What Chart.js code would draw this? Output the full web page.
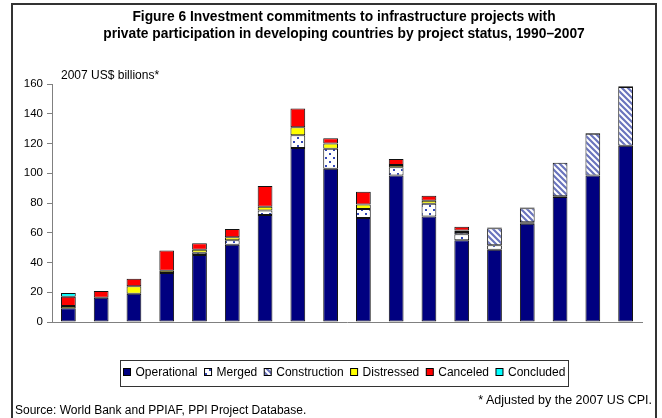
<!DOCTYPE html>
<html>
<head>
<meta charset="utf-8">
<script src="https://cdn.jsdelivr.net/npm/chart.js@4/dist/chart.umd.min.js"></script>
<style>
  html, body { margin:0; padding:0; background:#fff; }
  #wrap { position:relative; width:662px; height:418px; overflow:hidden; font-family:'Liberation Sans',Arial,sans-serif; color:#000; }
  #frame { position:absolute; left:11px; top:3px; width:642px; height:440px; border:2px solid #333; border-bottom:none; }
  canvas { position:absolute; left:0; top:0; }
  .t { position:absolute; white-space:nowrap; }
  #title { left:0; width:688px; text-align:center; font-weight:bold; font-size:13.8px; line-height:17px; top:8px; }
  #ylab { left:61px; top:67px; font-size:12px; line-height:16px; }
  #src { left:15px; top:402px; font-size:12px; line-height:16px; }
  #adj { right:10px; top:392px; font-size:12.5px; line-height:16px; }
</style>
</head>
<body>
<div id="wrap">
  <div id="frame"></div>
  <canvas id="c" width="662" height="418"></canvas>
  <div class="t" id="title">Figure 6 Investment commitments to infrastructure projects with<br>private participation in developing countries by project status, 1990–2007</div>
  <div class="t" id="ylab">2007 US$ billions*</div>
  <div class="t" id="src">Source: World Bank and PPIAF, PPI Project Database.</div>
  <div class="t" id="adj">* Adjusted by the 2007 US CPI.</div>
</div>
<script>
// ---- data (2007 US$ billions) ----
const years = ['1990','1991','1992','1993','1994','1995','1996','1997','1998','1999','2000','2001','2002','2003','2004','2005','2006','2007'];
const xTickLabels = ['1990','1995','2000','2005','2007'];
const yTicks = [0,20,40,60,80,100,120,140,160];
const operational  = [9.3,16.3,19,33,45,52,72,117,103,70,98.5,71,55,48.6,66,84,98.5,118.5];
const merged       = [0,0,0,0,1.5,3,3,8.5,13.5,6,5.5,8.5,4,3,1,0.5,0,0];
const construction = [0,0,0,0,0,0,0,0,0,0,0,0,1.5,11.5,9.5,22.5,28,39.5];
const distressed   = [1.5,0,5,1.5,2,2,2.5,5.5,3.5,3,1.5,2,1,0.5,0,0,0,0];
const canceled     = [6.2,4.5,5,13.5,4.5,5.5,14,12.5,3.5,8.5,4,3.3,2.5,0,0.5,0,0.5,0.5];
const concluded    = [2.5,0,0,0,0,0,0,0,0,0,0,0,0,0,0,0,0,0];

const FONT_FAMILY = "'Liberation Sans',Arial,sans-serif";

function dotPattern() {
  const c = document.createElement('canvas'); c.width = 8; c.height = 8;
  const g = c.getContext('2d');
  g.fillStyle = '#fff'; g.fillRect(0,0,8,8);
  g.fillStyle = '#3347b8';
  g.fillRect(1,1,2,2); g.fillRect(5,5,2,2);
  return g.createPattern(c, 'repeat');
}
function stripePattern() {
  const c = document.createElement('canvas'); c.width = 6; c.height = 6;
  const g = c.getContext('2d');
  g.fillStyle = '#fff'; g.fillRect(0,0,6,6);
  g.strokeStyle = '#6a74bd'; g.lineWidth = 2.2;
  g.beginPath();
  g.moveTo(-3,-3); g.lineTo(9,9);
  g.moveTo(-3,3); g.lineTo(3,9);
  g.moveTo(3,-3); g.lineTo(9,3);
  g.stroke();
  return g.createPattern(c, 'repeat');
}
const ctx0 = document.getElementById('c').getContext('2d');
const nz = a => a.map(v => v === 0 ? null : v);

const series = [
  {label:'Operational', data: operational, fill:'#000080'},
  {label:'Merged', data: merged, fill: dotPattern()},
  {label:'Construction', data: construction, fill: stripePattern()},
  {label:'Distressed', data: distressed, fill:'#ffff00'},
  {label:'Canceled', data: canceled, fill:'#ff0000'},
  {label:'Concluded', data: concluded, fill:'#00ffff'}
];

const legendPlugin = {
  id:'boxLegend',
  afterDraw(chart) {
    const ctx = chart.ctx;
    ctx.save();
    ctx.font = "12px " + FONT_FAMILY;
    const box = 7, gapT = 5, gapI = 7, padX = 3;
    const items = chart.data.datasets.map(ds => ({label: ds.label, fill: ds.backgroundColor, w: ctx.measureText(ds.label).width}));
    let total = items.reduce((s,it) => s + box + gapT + it.w, 0) + gapI*(items.length-1) + 2*padX;
    const cx = 344, top = 360, h = 26;
    let x = Math.round(cx - total/2) + 0.5;
    ctx.strokeStyle = '#333'; ctx.lineWidth = 1;
    ctx.strokeRect(x, top + 0.5, Math.round(total), h);
    x += padX;
    const ty = 372.5;
    items.forEach(it => {
      ctx.fillStyle = it.fill;
      ctx.fillRect(x, 368.5, box, box);
      ctx.strokeStyle = '#000';
      ctx.strokeRect(x, 368.5, box, box);
      ctx.fillStyle = '#000';
      ctx.textBaseline = 'middle';
      ctx.fillText(it.label, x + box + gapT, ty);
      x += box + gapT + it.w + gapI;
    });
    ctx.restore();
  }
};

new Chart(ctx0, {
  type: 'bar',
  data: {
    labels: years,
    datasets: series.map(s => ({
      label: s.label,
      data: nz(s.data),
      backgroundColor: s.fill,
      borderColor: '#111',
      borderWidth: 1,
      borderSkipped: false,
      barPercentage: 0.5,
      categoryPercentage: 0.9
    }))
  },
  options: {
    responsive: false,
    animation: false,
    layout: { padding: { left: 0, right: 20, top: 84, bottom: 76 } },
    plugins: { legend: { display: false }, tooltip: { enabled: false }, title: { display: false } },
    scales: {
      x: {
        stacked: true,
        grid: { display: false },
        border: { color: '#808080', width: 1 },
        ticks: {
          autoSkip: false, maxRotation: 0, color: '#000', padding: 13,
          font: { family: FONT_FAMILY, size: 11.5 },
          callback: function(v, i) { return xTickLabels.includes(years[i]) ? years[i] : ''; }
        },
        afterFit: s => { s.height = 20; }
      },
      y: {
        stacked: true, min: 0, max: 160,
        afterBuildTicks: s => { s.ticks = yTicks.map(v => ({value: v})); },
        grid: { drawOnChartArea: false, drawTicks: true, tickLength: 5, color: '#808080' },
        border: { color: '#808080', width: 1 },
        ticks: { color: '#000', padding: 4, font: { family: FONT_FAMILY, size: 11.5 } },
        afterFit: s => { s.width = 52; }
      }
    }
  },
  plugins: [legendPlugin]
});
</script>
</body>
</html>
